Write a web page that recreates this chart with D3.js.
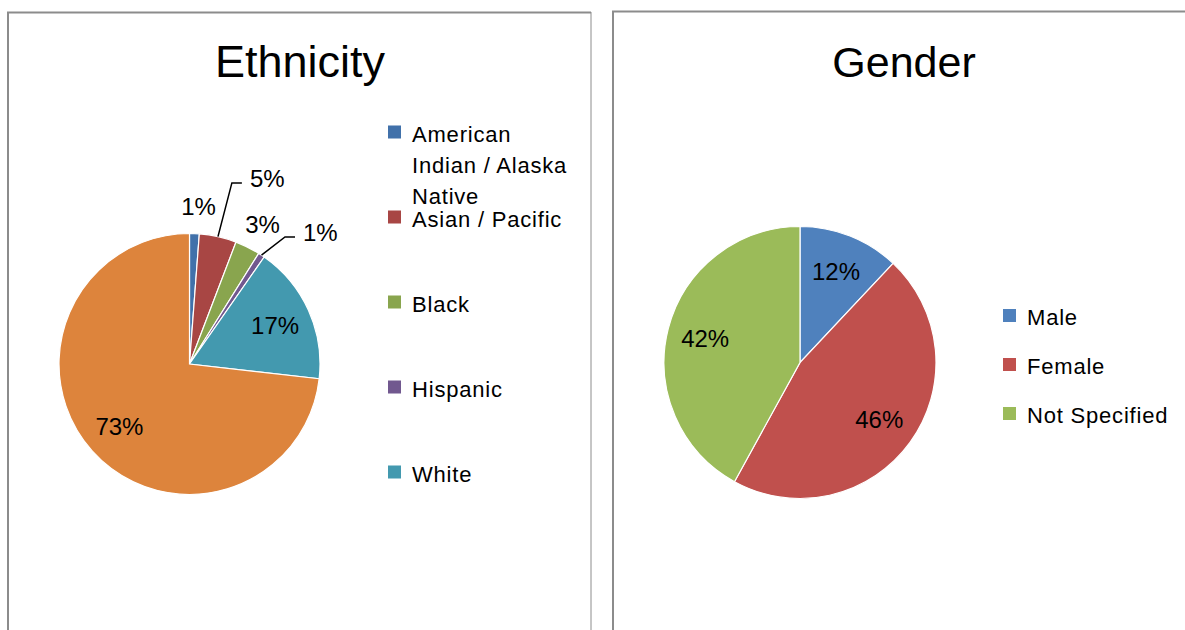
<!DOCTYPE html>
<meta charset="utf-8">
<script src="https://d3js.org/d3.v7.js"></script>
<style>
  body { margin: 0; background: #fff; }
  text { font-family: "Liberation Sans", Arial, sans-serif; fill: #000; }
</style>
<svg id="chart" width="1185" height="630"></svg>
<script>

// Ethnicity data (percent shares)
const ethCategories = ["American Indian / Alaska Native", "Asian / Pacific", "Black", "Hispanic", "White", "Not Specified"];
const ethValues = [1.2, 4.6, 3.1, 0.8, 17.1, 73.2];
const ethColors = ["#4171AA", "#A84644", "#89A54E", "#71588F", "#4399AF", "#DD843C"];

// Gender data (percent shares)
const genCategories = ["Male", "Female", "Not Specified"];
const genValues = [12, 46, 42];
const genColors = ["#4F81BD", "#C0504D", "#9BBB59"];

const svg = d3.select("#chart");

// panel frames
const frame = svg.append("g").attr("fill", "none").attr("stroke", "#8c8c8c");
frame.append("path").attr("d", "M8,640 V12.5 H591").attr("stroke-width", 2);
frame.append("line").attr("x1", 591).attr("x2", 591).attr("y1", 12).attr("y2", 640).attr("stroke-width", 1);
frame.append("path").attr("d", "M613,640 V11.5 H1190").attr("stroke-width", 2);

function drawPie(opts) {
  const data = opts.categories.map((c, i) => ({ cat: c, value: opts.values[i], color: opts.colors[i] }));
  const total = d3.sum(data, d => d.value);
  const pct = d3.format(".0%");
  const arcs = d3.pie().sort(null).value(d => d.value)(data);
  const R = opts.radius;
  const g = svg.append("g").attr("transform", `translate(${opts.cx},${opts.cy})`);

  g.selectAll("path.slice")
    .data(arcs)
    .join("path")
      .attr("class", "slice")
      .attr("d", d3.arc().innerRadius(0).outerRadius(R))
      .attr("fill", d => d.data.color)
      .attr("stroke", "#fff")
      .attr("stroke-width", 1.2);

  const polar = (r, a) => [r * Math.sin(a), -r * Math.cos(a)];
  const mid = d => (d.startAngle + d.endAngle) / 2;

  arcs.forEach(d => {
    const label = pct(d.data.value / total);
    const a = mid(d);
    const leader = opts.leaders[d.data.cat];
    if (d.data.value / total >= 0.1) {
      const [x, y] = polar(R * 0.72, a);
      g.append("text").attr("x", x).attr("y", y).attr("dy", "0.35em")
        .attr("text-anchor", "middle").style("font-size", "24px").text(label);
    } else if (leader) {
      // leader line: from the slice edge out to an elbow, then a short tick
      const [x0, y0] = polar(R, a);
      const [x1, y1] = polar(leader.r, a + leader.da);
      g.append("path")
        .attr("d", `M${x0},${y0} L${x1},${y1} H${x1 + 10}`)
        .attr("fill", "none").attr("stroke", "#000").attr("stroke-width", 1.5);
      g.append("text").attr("x", x1 + 18).attr("y", y1 - 4).attr("dy", "0.35em")
        .attr("text-anchor", "start").style("font-size", "24px").text(label);
    } else {
      const [x, y] = polar(R + 27, a + 0.02);
      g.append("text").attr("x", x).attr("y", y).attr("dy", "0.35em")
        .attr("text-anchor", "middle").style("font-size", "24px").text(label);
    }
  });

  // title
  svg.append("text")
    .attr("x", opts.titleX).attr("y", 77)
    .attr("text-anchor", "middle")
    .style("font-size", opts.titleSize + "px")
    .text(opts.title);

  // legend (entries that do not fit are dropped)
  const rows = data.filter((d, i) => opts.legendY + i * opts.legendStep <= opts.legendBottom);
  const lg = svg.append("g");
  rows.forEach((d, i) => {
    const y = opts.legendY + i * opts.legendStep;
    lg.append("rect")
      .attr("x", opts.legendX).attr("y", y - 16)
      .attr("width", 13).attr("height", 13)
      .attr("fill", d.color);
    const t = lg.append("text")
      .attr("x", opts.legendX + 24).attr("y", y)
      .style("font-size", "22px")
      .style("letter-spacing", "0.8px");
    // simple word wrap
    const words = d.cat.split(" ");
    let line = [];
    let tspan = t.append("tspan").attr("x", opts.legendX + 24).attr("dy", 0);
    words.forEach(w => {
      line.push(w);
      tspan.text(line.join(" "));
      if (tspan.node().getComputedTextLength() > opts.legendWrap && line.length > 1) {
        line.pop();
        tspan.text(line.join(" "));
        line = [w];
        tspan = t.append("tspan").attr("x", opts.legendX + 24).attr("dy", 31).text(w);
      }
    });
  });
}

drawPie({
  categories: ethCategories, values: ethValues, colors: ethColors,
  cx: 189.5, cy: 364, radius: 130.5,
  leaders: { "Asian / Pacific": { r: 186, da: 0.01 }, "Hispanic": { r: 159, da: 0.06 } },
  title: "Ethnicity", titleX: 300, titleSize: 45,
  legendX: 388, legendY: 141.5, legendStep: 85, legendBottom: 500, legendWrap: 170
});

drawPie({
  categories: genCategories, values: genValues, colors: genColors,
  cx: 800, cy: 362.5, radius: 136,
  leaders: {},
  title: "Gender", titleX: 904, titleSize: 43,
  legendX: 1003, legendY: 325, legendStep: 49, legendBottom: 500, legendWrap: 170
});

</script>
